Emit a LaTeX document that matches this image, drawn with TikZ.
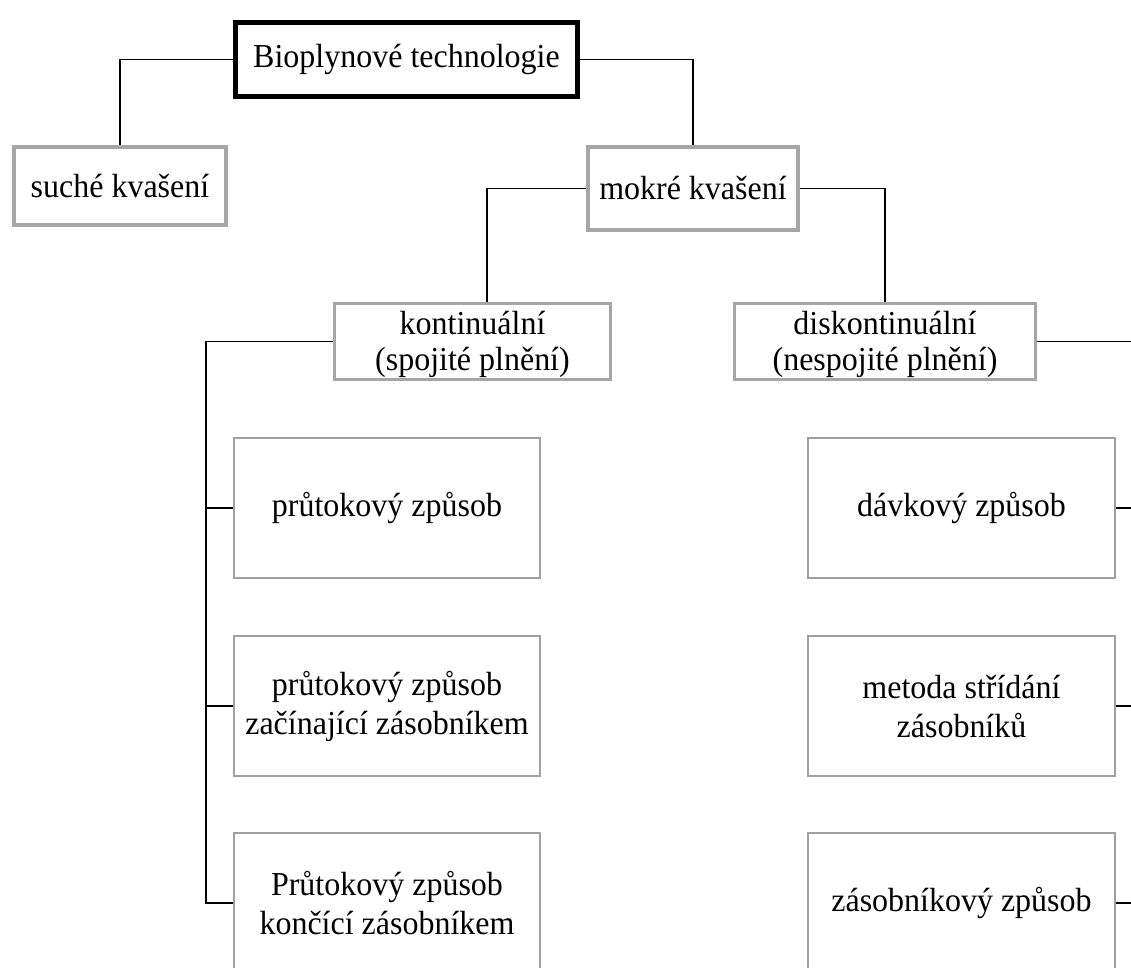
\documentclass[tikz,border=0pt]{standalone}
\usepackage{fontspec}
\setmainfont{Liberation Serif}[FakeStretch=0.955]
\definecolor{framegray}{HTML}{A6A6A6}
\definecolor{leafgray}{HTML}{A0A0A0}
\tikzset{
  every node/.style={font=\fontsize{33.5}{39}\selectfont, align=center, inner sep=0pt, fill=white},
  rootbox/.style={draw=black, line width=5pt, minimum width=342pt, minimum height=74pt},
  kindbox/.style={draw=framegray, line width=4pt},
  modebox/.style={draw=framegray, line width=3.5pt, minimum height=76pt},
  modetext/.style={fill=none, font=\fontsize{33.5}{36}\selectfont},
  leafbox/.style={draw=leafgray, line width=1.3pt, minimum width=306pt, minimum height=140pt},
  link/.style={draw=black, line width=1.8pt}
}
\begin{document}
\begin{tikzpicture}[x=1pt, y=-1pt]
  \useasboundingbox (0,0) rectangle (1131,967);
  \clip (0,0) rectangle (1131,967);
  \fill[white] (0,0) rectangle (1131,967);

  % top level
  \node[rootbox] (root) at (406.5,59.5) {Bioplynové technologie};
  \node[kindbox, minimum width=212pt, minimum height=78pt] (dry) at (120,186) {suché kvašení};
  \node[kindbox, minimum width=210pt, minimum height=83pt] (wet) at (693,188.5) {mokré kvašení};

  % filling modes (text sits slightly low in these boxes)
  \node[modebox, minimum width=276pt] (cont) at (472.5,341.5) {};
  \node[modebox, minimum width=301pt] (disc) at (885,341.5) {};
  \node[modetext] (conttext) at ([yshift=-3pt]cont.center) {kontinuální\\(spojité plnění)};
  \node[modetext] (disctext) at ([yshift=-3pt]disc.center) {diskontinuální\\(nespojité plnění)};

  % continuous variants
  \node[leafbox] (l1) at (387,508) {průtokový způsob};
  \node[leafbox] (l2) at (387,706) {průtokový způsob\\začínající zásobníkem};
  \node[leafbox] (l3) at (387,903) {Průtokový způsob\\končící zásobníkem};

  % discontinuous variants
  \node[leafbox, minimum width=307pt] (r1) at (961.5,508) {dávkový způsob};
  \node[leafbox, minimum width=307pt] (r2) at (961.5,706) {metoda střídání\\zásobníků};
  \node[leafbox, minimum width=307pt] (r3) at (961.5,903) {zásobníkový způsob};

  % trunk lines
  \coordinate (lt) at (206,341.5);
  \coordinate (rt) at (1150,341.5);

  % connectors
  \draw[link] (root.west) -| (dry.north);
  \draw[link] (root.east) -| (wet.north);
  \draw[link] (wet.west) -| ([xshift=14.5pt]cont.north);
  \draw[link] (wet.east) -| (disc.north);

  \draw[link] (cont.west) -- (lt) |- (l3.west);
  \draw[link] (l1.west) -- (l1.west -| lt);
  \draw[link] (l2.west) -- (l2.west -| lt);

  \draw[link] (disc.east) -- (rt) |- (r3.east);
  \draw[link] (r1.east) -- (r1.east -| rt);
  \draw[link] (r2.east) -- (r2.east -| rt);
\end{tikzpicture}
\end{document}
